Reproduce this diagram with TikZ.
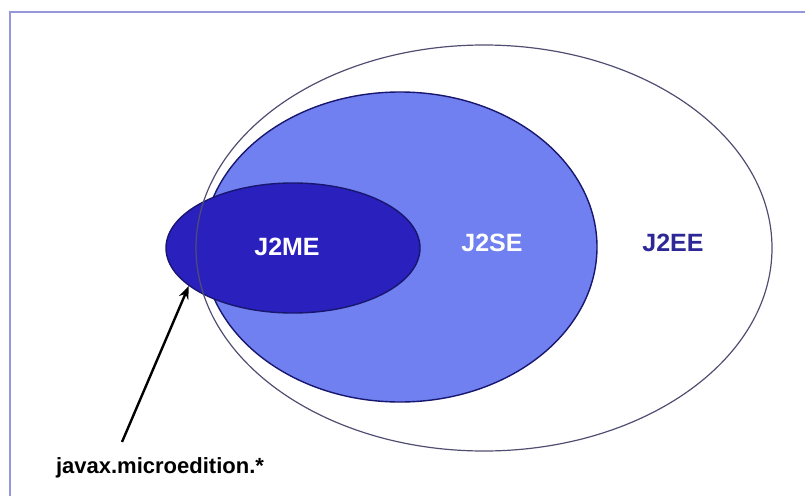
\documentclass[tikz,border=0pt]{standalone}
\usepackage{fontspec}
\setmainfont{Liberation Sans}
\usetikzlibrary{shapes.geometric,arrows.meta}
\definecolor{seblue}{RGB}{112,128,240}
\definecolor{meblue}{RGB}{42,32,190}
\definecolor{navy}{RGB}{24,22,110}
\definecolor{eetext}{RGB}{46,40,150}
\definecolor{eeline}{RGB}{80,78,112}
\definecolor{frame}{RGB}{150,150,220}

\begin{document}
\begin{tikzpicture}[x=1pt,y=-1pt,line width=1.4pt]
 \useasboundingbox (0,0) rectangle (805,495);
 \draw[frame,line width=1.5pt] (10,500)--(10,12)--(810,12);
 % the three editions
 \node[ellipse,draw=navy,fill=seblue,inner sep=0,minimum width=394pt,minimum height=310pt] (j2se) at (400,247) {};
 \node[ellipse,draw=navy,fill=meblue,inner sep=0,minimum width=254pt,minimum height=130pt] (j2me) at (293,248) {};
 \node[ellipse,draw=eeline,line width=1.2pt,inner sep=0,minimum width=576pt,minimum height=406pt] (j2ee) at (484,248) {};
 \node[font=\fontsize{25}{25}\bfseries,white] (lme) at (287,247) {J2ME};
 \node[font=\fontsize{25}{25}\bfseries,white] (lse) at (492,243) {J2SE};
 \node[font=\fontsize{25}{25}\bfseries,eetext] (lee) at (673,243) {J2EE};
 % package
 \node[font=\fontsize{22}{22}\bfseries] (pkg) at (160,468) {javax.microedition.*};
 \coordinate (tail) at (122,442);
 \draw[-{Stealth[length=13pt,width=10pt]},line width=2.4pt] (tail) -- (j2me.200);
\end{tikzpicture}
\end{document}
